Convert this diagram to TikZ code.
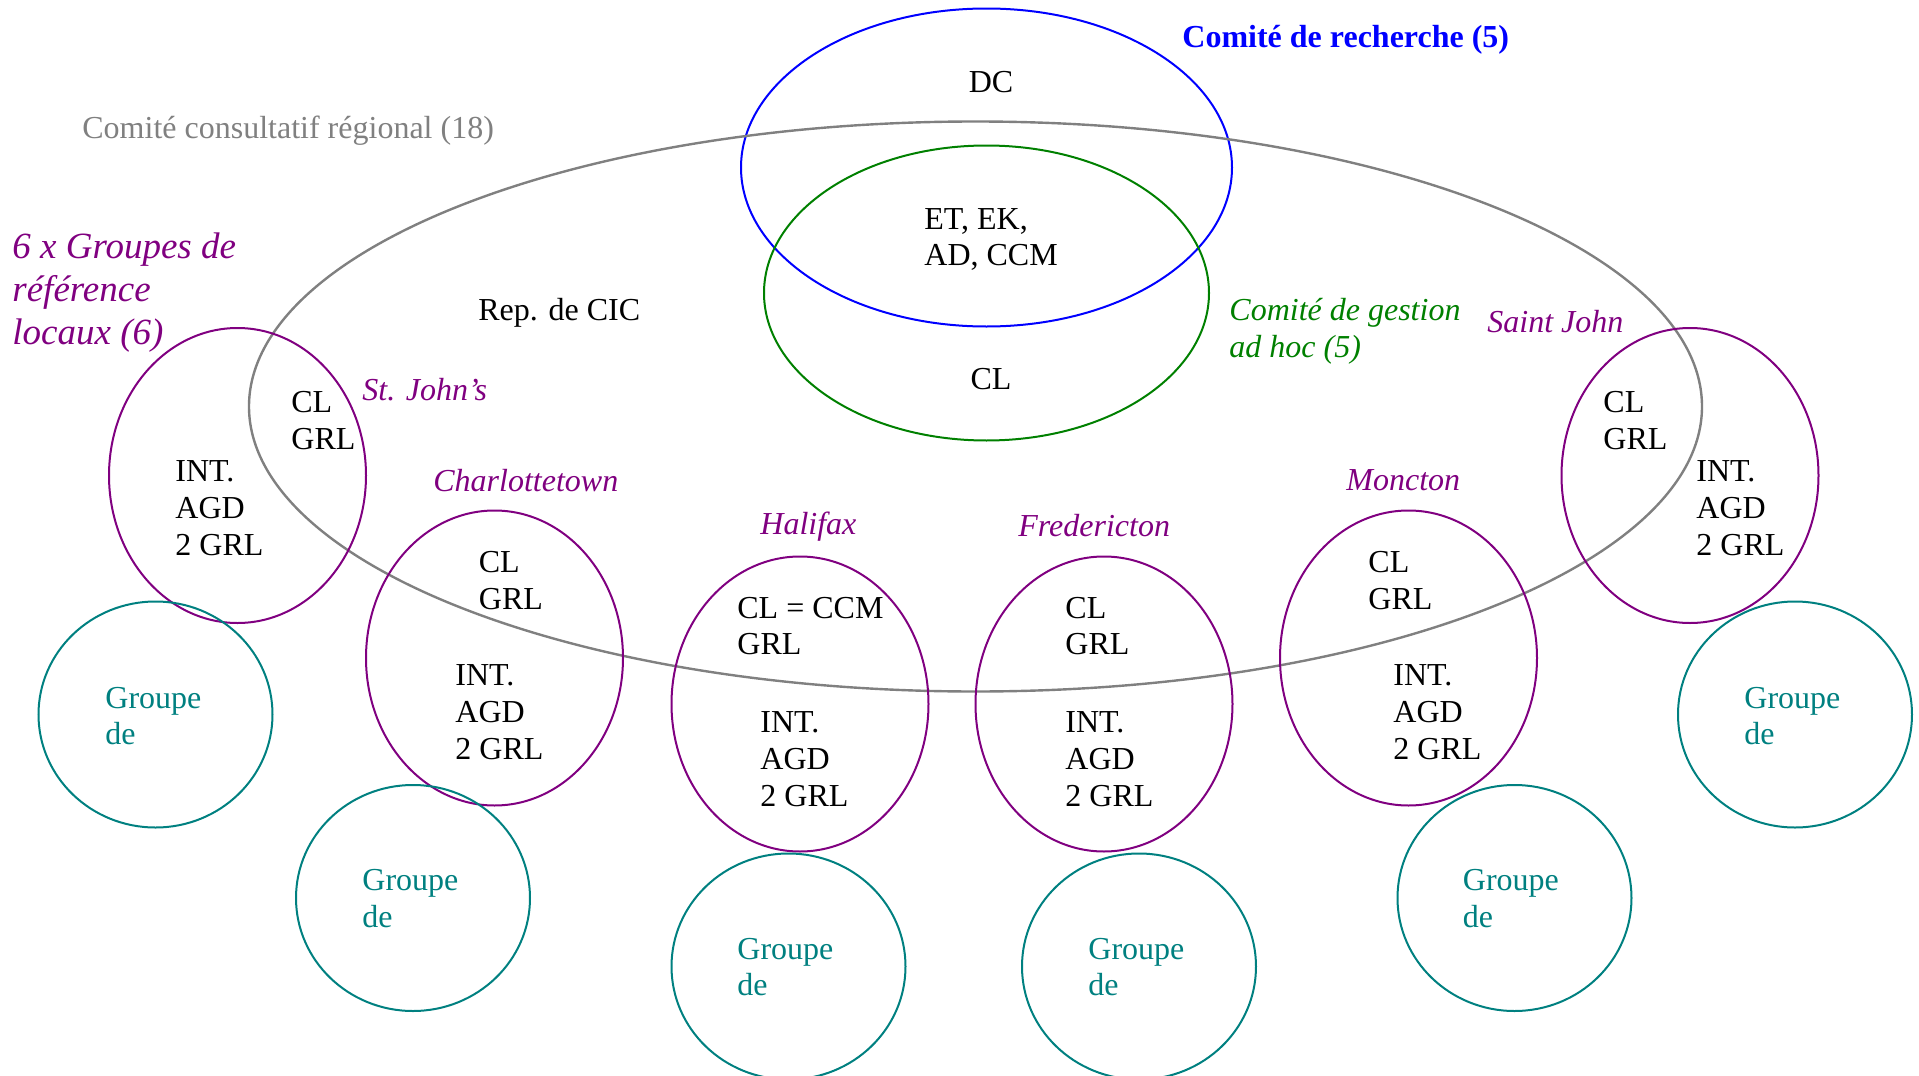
\documentclass[tikz,border=0pt]{standalone}
\usepackage{fontspec}
\setmainfont{Liberation Serif}
\usetikzlibrary{shapes.geometric}
\definecolor{cblue}{RGB}{0,0,255}
\definecolor{cgreen}{RGB}{0,128,0}
\definecolor{cpurple}{RGB}{128,0,128}
\definecolor{cteal}{RGB}{0,128,128}
\definecolor{cgray}{RGB}{128,128,128}
\tikzset{
  ell/.style={ellipse, inner sep=0pt, line width=1pt},
  grp/.style={ell, draw=cpurple, minimum width=128.5pt, minimum height=147.5pt},
  grc/.style={ell, draw=cteal, minimum width=117pt, minimum height=113pt},
  txt/.style={inner sep=0pt, font=\fontsize{16}{18.35}\selectfont, align=left, anchor=west},
  city/.style={txt, text=cpurple, font=\fontsize{16}{18.35}\selectfont\itshape},
  grptxt/.style={txt, text=cteal},
}
\begin{document}
\begin{tikzpicture}[x=0.5pt, y=-0.5pt]
\useasboundingbox (0,0) rectangle (1919,1076);
% committees
\node[ell, draw=cblue, minimum width=245.5pt, minimum height=159pt] (rech) at (986.5,167.5) {};
\node[ell, draw=cgreen, minimum width=222.5pt, minimum height=147.5pt] (gest) at (986.5,293) {};
\node[ell, draw=cgray, line width=1.2pt, minimum width=726.5pt, minimum height=285pt] (ccr) at (975.5,406.5) {};
% local groups
\node[grp] (sjs) at (237.5,475.5) {};
\node[grp] (cha) at (494.5,658) {};
\node[grp] (hal) at (800,704) {};
\node[grp] (fre) at (1104,704) {};
\node[grp] (mon) at (1408.5,658) {};
\node[grp] (sjn) at (1690,475.5) {};
% groupe de circles
\node[grc] (g1) at (155.5,714.5) {};
\node[grc] (g2) at (413,898) {};
\node[grc] (g3) at (788.5,966.5) {};
\node[grc] (g4) at (1139,966.5) {};
\node[grc] (g5) at (1514.5,898) {};
\node[grc] (g6) at (1795,714.5) {};
% labels
\node[txt, anchor=west, text=cblue, font=\fontsize{16}{19}\selectfont\bfseries] (trech) at (1182,40) {Comité de recherche (5)};
\node[txt, anchor=center] (tdc) at (991,82) {DC};
\node[txt, text=cgray, font=\fontsize{16}{19}\selectfont] (tccr) at (82,131) {Comité consultatif régional (18)};
\node[txt] (tet) at (924,239.5) {ET, EK,\\AD, CCM};
\node[txt] (trep) at (478,313) {Rep. de CIC};
\node[txt, anchor=center] (tcl) at (991,379.5) {CL};
\node[txt, text=cgreen, font=\fontsize{16}{18.35}\selectfont\itshape] (tgest) at (1229,331.5) {Comité de gestion\\ad hoc (5)};
\node[txt, text=cpurple, font=\fontsize{18.5}{21.5}\selectfont\itshape] (tgrl) at (12,292.5) {6 x Groupes de\\référence\\locaux (6)};
% city names
\node[city] (nsjs) at (362,389.5) {St. John’s};
\node[city] (ncha) at (433,480.5) {Charlottetown};
\node[city] (nhal) at (760,526.5) {Halifax};
\node[city] (nfre) at (1018,525.5) {Fredericton};
\node[city] (nmon) at (1346,480.5) {Moncton};
\node[city] (nsjn) at (1487,321.5) {Saint John};
% contents
\node[txt] (a1) at (291,420.5) {CL\\GRL};
\node[txt] (b1) at (175,508) {INT.\\AGD\\2 GRL};
\node[txt] (a2) at (478.5,580.5) {CL\\GRL};
\node[txt] (b2) at (455,712) {INT.\\AGD\\2 GRL};
\node[txt] (a3) at (737,626) {CL = CCM\\GRL};
\node[txt] (b3) at (760,759) {INT.\\AGD\\2 GRL};
\node[txt] (a4) at (1065,626) {CL\\GRL};
\node[txt] (b4) at (1065,759) {INT.\\AGD\\2 GRL};
\node[txt] (a5) at (1368,580.5) {CL\\GRL};
\node[txt] (b5) at (1393,712) {INT.\\AGD\\2 GRL};
\node[txt] (a6) at (1603,420.5) {CL\\GRL};
\node[txt] (b6) at (1696,508) {INT.\\AGD\\2 GRL};
% groupe de
\node[grptxt] (t1) at (105,716) {Groupe\\de};
\node[grptxt] (t2) at (362,898.5) {Groupe\\de};
\node[grptxt] (t3) at (737,967) {Groupe\\de};
\node[grptxt] (t4) at (1088,967) {Groupe\\de};
\node[grptxt] (t5) at (1462.5,898.5) {Groupe\\de};
\node[grptxt] (t6) at (1744,716) {Groupe\\de};
\end{tikzpicture}
\end{document}
